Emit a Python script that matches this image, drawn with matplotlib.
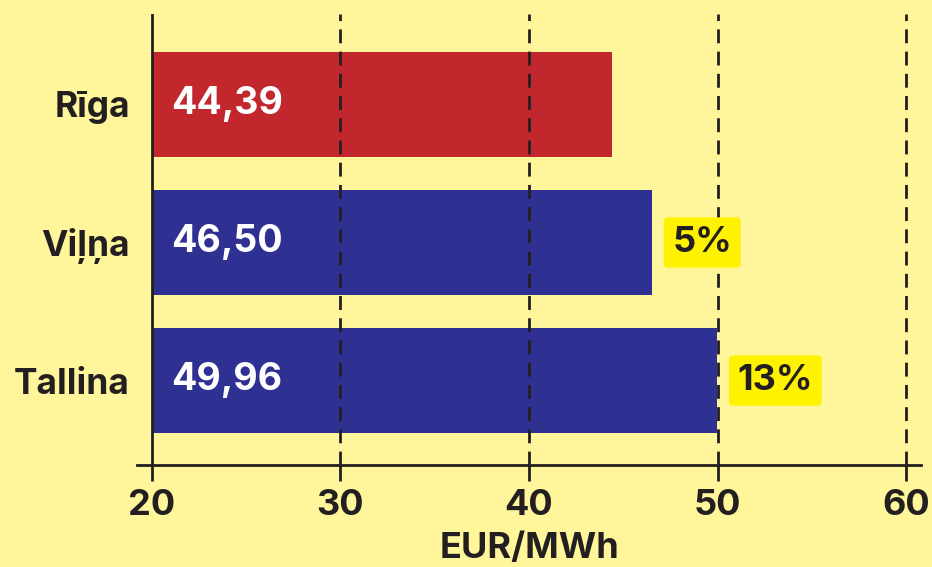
import matplotlib
matplotlib.use("Agg")
import matplotlib.pyplot as plt

cities = ["Rīga", "Viļņa", "Tallina"]
values = [44.39, 46.50, 49.96]
value_labels = ["44,39", "46,50", "49,96"]
pct_labels = ["", "5%", "13%"]
bar_colors = ["#C1272D", "#2E3192", "#2E3192"]
xticks = [20, 30, 40, 50, 60]
xlabel = "EUR/MWh"

BG = "#FFF69B"
DARK = "#231F20"
BADGE = "#FFF200"
FONT = "Inter"

plt.rcParams['font.family'] = [FONT, 'DejaVu Sans']

W, H = 932, 567
fig = plt.figure(figsize=(W / 100, H / 100), dpi=100)
fig.patch.set_facecolor(BG)

px_per_unit = (906 - 152) / 40.0
x0 = 20 - (152 - 137) / px_per_unit
x1 = 20 + (921 - 152) / px_per_unit
ax = fig.add_axes([137 / W, (H - 465) / H, (921 - 137) / W, (465 - 14) / H])
ax.set_facecolor(BG)

ypos = list(range(len(cities)))
ax.barh(ypos, [v - 20 for v in values], left=20, height=105 / 138,
        color=bar_colors, zorder=2)

ax.set_xlim(x0, x1)
ax.set_ylim(2 + (465 - 380.5) / 138, -(104.5 - 14) / 138)

# gridlines
for t in xticks[1:]:
    ax.axvline(t, color=DARK, lw=2, dashes=(5, 3), zorder=3)
ax.axvline(20, color=DARK, lw=2, zorder=3)

for s in ["top", "right", "left"]:
    ax.spines[s].set_visible(False)
ax.spines["bottom"].set_color(DARK)
ax.spines["bottom"].set_linewidth(2)

ax.set_xticks(xticks)
ax.set_xticklabels([str(t) for t in xticks], fontsize=26, fontweight="bold", color=DARK)
ax.tick_params(axis="x", length=11.5, width=2, color=DARK, pad=6)
ax.set_yticks(ypos)
ax.set_yticklabels(cities, fontsize=25.5, fontweight="bold", color=DARK)
ax.tick_params(axis="y", length=0, pad=5)
ax.set_xlabel(xlabel, fontsize=26, fontweight="bold", color=DARK, labelpad=7)

for i, (v, lab, pct) in enumerate(zip(values, value_labels, pct_labels)):
    ax.annotate(lab, xy=(20, i), xytext=(14, 0), textcoords="offset points",
                ha="left", va="center", fontsize=27, fontweight="bold",
                color="white", zorder=4)
    if pct:
        ax.annotate(pct, xy=(v, i), xytext=(15, 0), textcoords="offset points",
                    ha="left", va="center", fontsize=26, fontweight="bold",
                    color=DARK, zorder=5,
                    bbox=dict(boxstyle="round,pad=0.24,rounding_size=0.12",
                              fc=BADGE, ec="none"))

fig.savefig("out.png", dpi=100, facecolor=BG)
